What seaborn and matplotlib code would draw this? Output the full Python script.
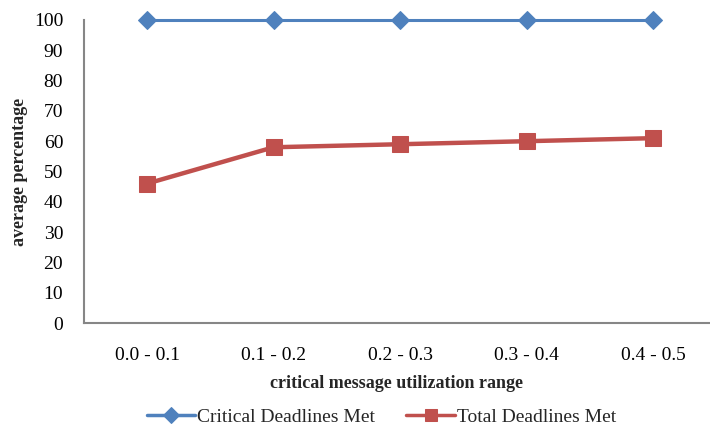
import matplotlib
matplotlib.use("Agg")
import matplotlib.pyplot as plt
import seaborn as sns
import pandas as pd

categories = ["0.0 - 0.1", "0.1 - 0.2", "0.2 - 0.3", "0.3 - 0.4", "0.4 - 0.5"]
critical = [100, 100, 100, 100, 100]
total = [46, 58, 59, 60, 61]
series_names = ["Critical Deadlines Met", "Total Deadlines Met"]

sns.set_style("white")
plt.rcParams["font.family"] = ["Liberation Serif", "DejaVu Serif"]

df = pd.DataFrame({
    "range": categories * 2,
    "value": critical + total,
    "series": [series_names[0]] * len(categories) + [series_names[1]] * len(categories),
})

fig = plt.figure(figsize=(7.1, 4.3), dpi=100)
ax = fig.add_axes([84 / 710, 1 - 323 / 430, (710 - 84) / 710, (323 - 20) / 430])

sns.lineplot(data=df[df.series == series_names[0]], x="range", y="value", ax=ax,
             color="#4F81BD", linewidth=2.2, marker="D", markersize=9,
             markeredgecolor="#4F81BD", label=series_names[0], sort=False,
             clip_on=False)
sns.lineplot(data=df[df.series == series_names[1]], x="range", y="value", ax=ax,
             color="#C0504D", linewidth=3.2, marker="s", markersize=11,
             markeredgecolor="#C0504D", label=series_names[1], sort=False,
             clip_on=False)

ax.set_ylim(0, 100)
ax.set_xlim(-0.498, 4.45)
ax.set_yticks(range(0, 101, 10))
ax.tick_params(axis="both", labelsize=14, colors="#868686", labelcolor="black",
               direction="out", length=5, width=1.3)
ax.tick_params(axis="x", pad=12)
ax.tick_params(axis="y", pad=10)
for s in ["top", "right"]:
    ax.spines[s].set_visible(False)
for s in ["left", "bottom"]:
    ax.spines[s].set_color("#868686")
    ax.spines[s].set_linewidth(1.5)
ax.grid(False)

ax.set_ylabel("average percentage", fontsize=13, fontweight="bold", labelpad=4)
ax.set_xlabel("critical message utilization range", fontsize=13, fontweight="bold", labelpad=8)

leg = ax.legend(loc="upper center", bbox_to_anchor=(0.475, -0.237), ncol=2, frameon=False,
                fontsize=14, handlelength=2.5, handletextpad=0.1, columnspacing=1.6,
                markerscale=0.85, borderaxespad=0.3)
for line in leg.get_lines():
    line.set_linewidth(2.5)

fig.savefig("out.png", dpi=100)
